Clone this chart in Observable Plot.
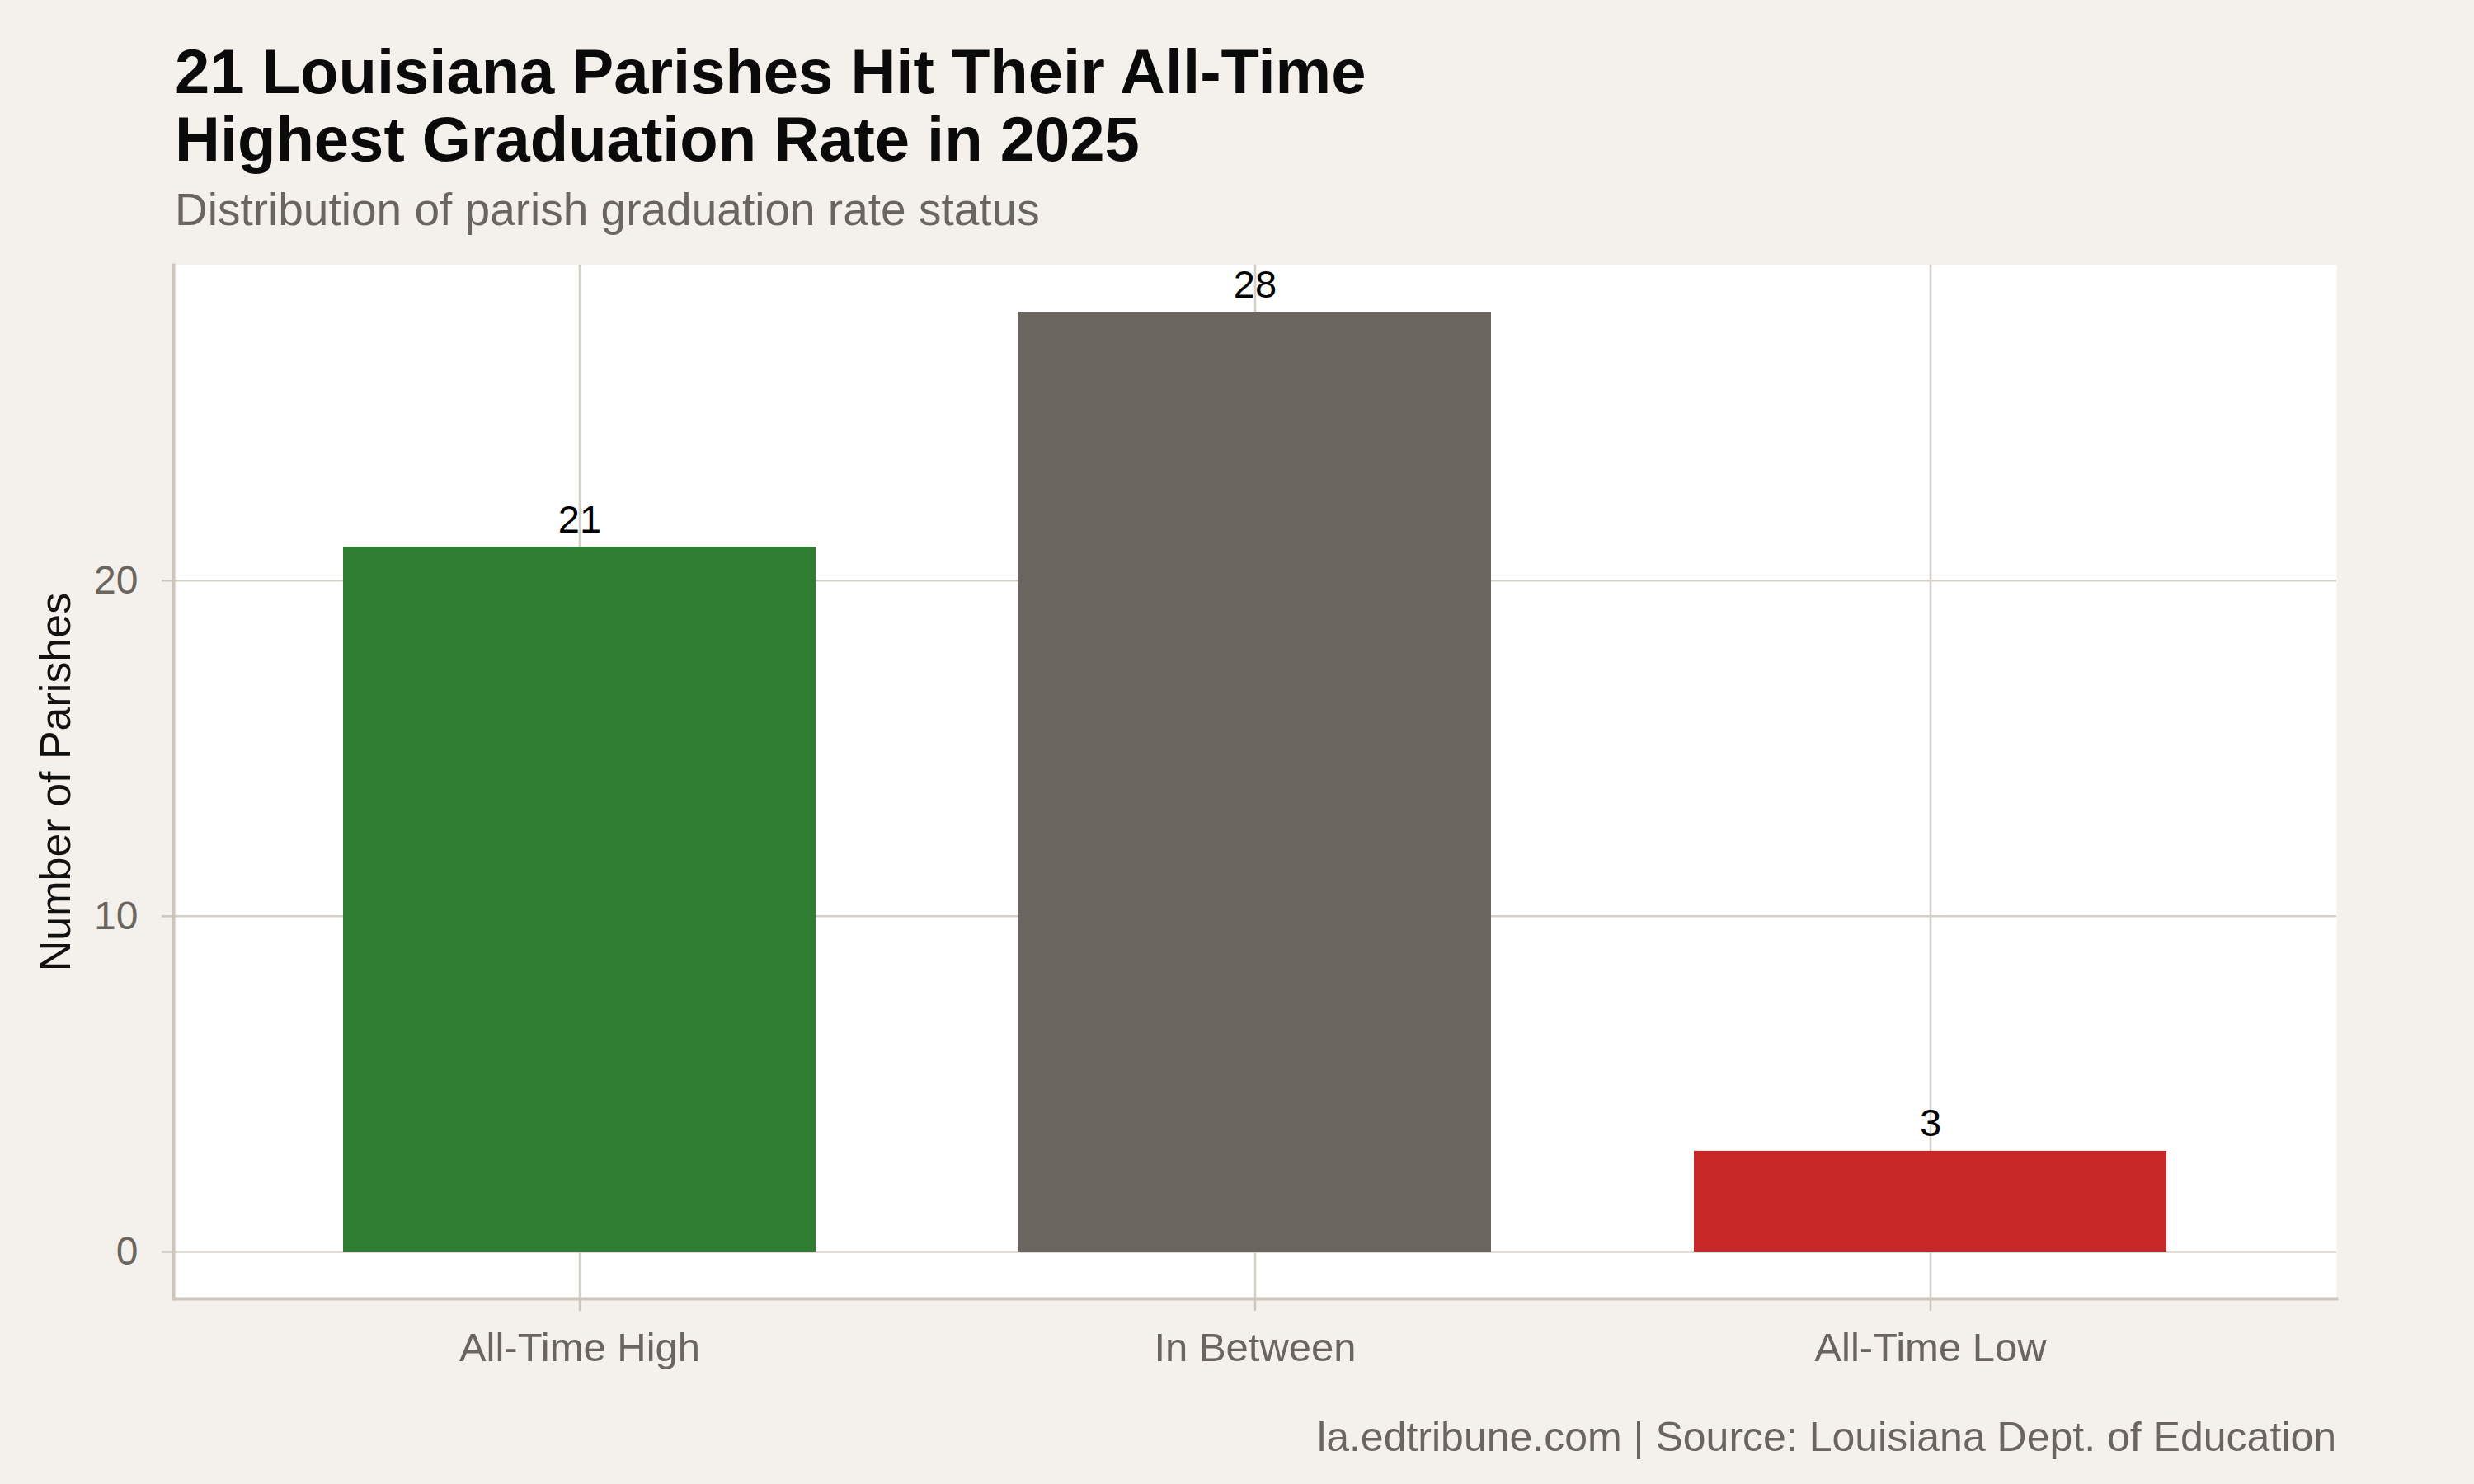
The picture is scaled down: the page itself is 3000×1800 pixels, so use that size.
<!DOCTYPE html>
<html>
<head>
<meta charset="utf-8">
<script src="https://cdn.jsdelivr.net/npm/d3@7"></script>
<script src="https://cdn.jsdelivr.net/npm/@observablehq/plot@0.6"></script>
<style>
  html, body { margin: 0; padding: 0; background: #f4f1ec; }
  body { width: 3000px; height: 1800px; position: relative; overflow: hidden;
         font-family: "Liberation Sans", Arial, Helvetica, sans-serif; }
  #title { position: absolute; left: 212px; top: 46px; font-size: 76px; font-weight: bold;
           line-height: 82px; color: #0a0a0a; white-space: nowrap; }
  #subtitle { position: absolute; left: 212px; top: 224px; font-size: 55px; line-height: 60px;
              color: #6b6560; white-space: nowrap; }
  #chart { position: absolute; left: 0; top: 300px; }
  #caption { position: absolute; right: 167px; top: 1716px; font-size: 50px; line-height: 54px;
             color: #6b6560; white-space: nowrap; }
  g[aria-label="y-axis label"] text { fill: #111111; font-size: 52px; }
</style>
</head>
<body>
<div id="title">21 Louisiana Parishes Hit Their All-Time<br>Highest Graduation Rate in 2025</div>
<div id="subtitle">Distribution of parish graduation rate status</div>
<div id="chart"></div>
<div id="caption">la.edtribune.com | Source: Louisiana Dept. of Education</div>
<script>
const categories = ["All-Time High", "In Between", "All-Time Low"];
const counts = [21, 28, 3];
const barColors = ["#2e7d32", "#6b6560", "#c62828"];
const yTicks = [0, 10, 20];

const data = categories.map((c, i) => ({status: c, count: counts[i]}));

const gridColor = "#d4cfc7";
const axisLineColor = "#ccc6bc";
const tickTextColor = "#6b6560";

const chart = Plot.plot({
  width: 3000,
  height: 1380,
  marginTop: 21,
  marginBottom: 105,
  marginLeft: 210,
  marginRight: 167,
  style: {fontFamily: "'Liberation Sans', Arial, Helvetica, sans-serif", background: "transparent"},
  x: {domain: categories, paddingInner: 0.3, paddingOuter: 0.25, label: null},
  y: {domain: [-1.4, 29.4], label: "Number of Parishes"},
  color: {domain: categories, range: barColors},
  marks: [
    Plot.frame({fill: "white", stroke: "none"}),
    Plot.gridY(yTicks, {stroke: gridColor, strokeOpacity: 1, strokeWidth: 2.5}),
    Plot.gridX(categories, {stroke: gridColor, strokeOpacity: 1, strokeWidth: 2.5}),
    Plot.barY(data, {x: "status", y: "count", fill: "status"}),
    Plot.text(data, {x: "status", y: "count", text: d => String(d.count), lineAnchor: "bottom",
                     dy: -18, fontSize: 47, fill: "#000000"}),
    Plot.frame({anchor: "left", stroke: axisLineColor, strokeWidth: 4}),
    Plot.frame({anchor: "bottom", stroke: axisLineColor, strokeWidth: 4}),
    Plot.axisY({ticks: yTicks, tickSize: 14, tickPadding: 29, fontSize: 48,
                stroke: axisLineColor, strokeWidth: 2.5, fill: tickTextColor,
                label: "Number of Parishes", labelAnchor: "center", labelArrow: "none",
                labelOffset: 162}),
    Plot.axisX({tickSize: 15, tickPadding: 26, fontSize: 49, stroke: axisLineColor,
                strokeWidth: 2.5, fill: tickTextColor, label: null})
  ]
});
document.getElementById("chart").appendChild(chart);
</script>
</body>
</html>
